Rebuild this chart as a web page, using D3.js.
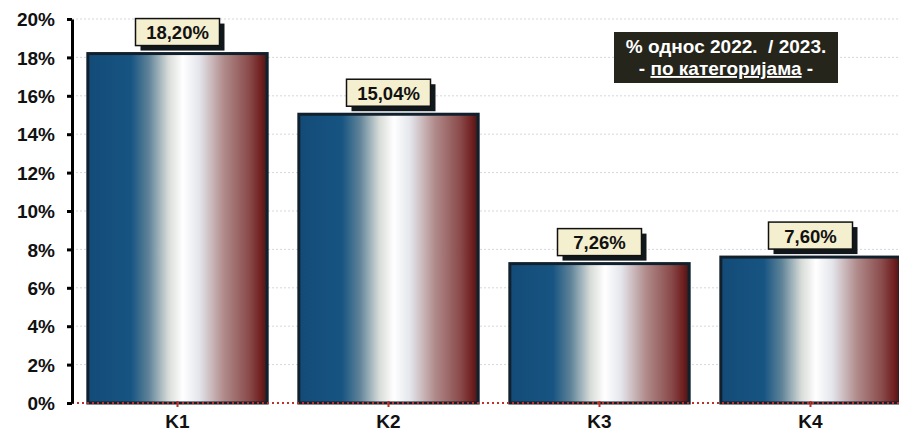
<!DOCTYPE html>
<html><head><meta charset="utf-8">
<script src="https://cdn.jsdelivr.net/npm/d3@7"></script>
<style>body{margin:0;background:#fff;overflow:hidden}svg{display:block;font-family:Arial,"Liberation Sans",sans-serif}</style>
</head><body>
<script>
const categories = ["K1","K2","K3","K4"];
const values = [18.20, 15.04, 7.26, 7.60];
const valueLabels = ["18,20%","15,04%","7,26%","7,60%"];
const yTicks = [0,2,4,6,8,10,12,14,16,18,20];
const titleLine1 = "% однос 2022.\u00A0\u00A0/ 2023.";
const titleLine2 = "по категоријама";

const W = 899, H = 435;
const svg = d3.select("body").append("svg").attr("width", W).attr("height", H);
const x0 = 72, y0 = 403;
const x = d3.scaleBand().domain(categories).range([x0, x0 + 4*211]).paddingInner(0.15).paddingOuter(0.075);
const y = d3.scaleLinear().domain([0, 20]).range([y0, 19]);

const defs = svg.append("defs");
const g = defs.append("linearGradient").attr("id","bargrad").attr("x1","0%").attr("x2","100%").attr("y1","0%").attr("y2","0%");
[[0,"#134b78"],[0.24,"#175482"],[0.34,"#5f8398"],[0.45,"#d8dcd8"],[0.53,"#ffffff"],[0.62,"#e4e6ec"],[0.76,"#b08a8a"],[0.9,"#8a4a4a"],[0.97,"#6e1d1d"],[1,"#3a1a1a"]]
  .forEach(([o,c]) => g.append("stop").attr("offset", o).attr("stop-color", c));

// gridlines
svg.append("g").selectAll("line").data(yTicks.filter(t => t > 0)).join("line")
  .attr("x1", x0).attr("x2", W).attr("y1", d => y(d)).attr("y2", d => y(d))
  .attr("stroke", "#d4d8e0").attr("stroke-width", 1).attr("stroke-dasharray", "2,2");

// bars
svg.append("g").selectAll("rect").data(values).join("rect")
  .attr("x", (d,i) => x(categories[i]))
  .attr("y", d => y(d))
  .attr("width", x.bandwidth())
  .attr("height", d => y0 - y(d))
  .attr("fill", "url(#bargrad)")
  .attr("stroke", "#10202c").attr("stroke-width", 3);

// baseline red dotted
svg.append("line").attr("x1", x0).attr("x2", W).attr("y1", y0).attr("y2", y0)
  .attr("stroke", "#c0302a").attr("stroke-width", 2).attr("stroke-dasharray", "2,3");
svg.append("g").selectAll("line").data(categories).join("line")
  .attr("x1", d => x(d) + x.bandwidth()/2).attr("x2", d => x(d) + x.bandwidth()/2)
  .attr("y1", y0 - 2).attr("y2", y0 + 4).attr("stroke", "#c0302a").attr("stroke-width", 2);

// y axis
const yAxis = d3.axisLeft(y).tickValues(yTicks).tickFormat(d => d + "%").tickSize(5).tickSizeOuter(0);
const ya = svg.append("g").attr("transform", `translate(${x0},0)`).call(yAxis);
ya.select(".domain").attr("stroke", "#000").attr("stroke-width", 3);
ya.selectAll(".tick line").attr("stroke", "#000").attr("stroke-width", 3);
ya.selectAll(".tick text").attr("x", -17).attr("dy", "0.35em").attr("font-size", 19).attr("font-weight", "bold").attr("fill", "#111")
  .attr("font-family", "Arial, Liberation Sans, sans-serif");

// x axis labels
const xAxis = d3.axisBottom(x).tickSize(0);
const xa = svg.append("g").attr("transform", `translate(0,${y0})`).call(xAxis);
xa.select(".domain").remove();
xa.selectAll(".tick text").attr("y", 12).attr("dy", "0.71em").attr("font-size", 19).attr("font-weight", "bold").attr("fill", "#111")
  .attr("font-family", "Arial, Liberation Sans, sans-serif");

// value labels
const lab = svg.append("g").selectAll("g").data(values).join("g")
  .attr("transform", (d,i) => `translate(${x(categories[i]) + x.bandwidth()/2},${y(d) - 21})`);
lab.append("rect").attr("x", -37).attr("y", -9).attr("width", 84).attr("height", 27).attr("fill", "#10181c");
lab.append("rect").attr("x", -42).attr("y", -14).attr("width", 84).attr("height", 27)
  .attr("fill", "#f4efcf").attr("stroke", "#111").attr("stroke-width", 1.5);
lab.append("text").attr("x", 0).attr("y", 0).attr("dy", "0.35em").attr("text-anchor", "middle")
  .attr("font-size", 18.5).attr("font-weight", "bold").attr("fill", "#111")
  .text((d,i) => valueLabels[i]);

// title box
const tb = svg.append("g").attr("transform", "translate(614,32)");
tb.append("rect").attr("width", 224).attr("height", 51).attr("fill", "#25251c");
tb.append("text").attr("x", 112).attr("y", 21).attr("text-anchor", "middle").attr("fill", "#fff")
  .attr("font-size", 19).attr("font-weight", "bold").text(titleLine1);
const t2 = tb.append("text").attr("x", 112).attr("y", 43).attr("text-anchor", "middle").attr("fill", "#fff")
  .attr("font-size", 19).attr("font-weight", "bold");
t2.append("tspan").text("- ");
t2.append("tspan").attr("text-decoration", "underline").text(titleLine2);
t2.append("tspan").text(" -");
</script>
</body></html>
